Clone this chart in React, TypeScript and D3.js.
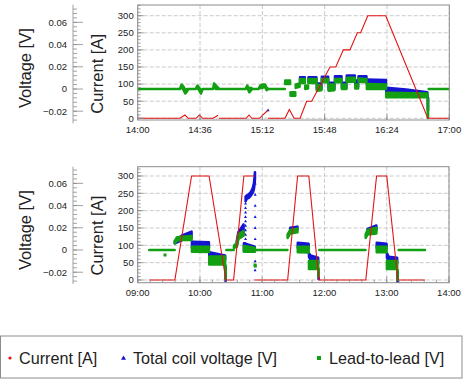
import React from "react";
import * as d3 from "d3";

type Band = [number, number, number]; // [minutes from panel start, low V, high V]
type Pt = [number, number];

// ---------- data ----------
const TOP_TIME_TICKS = ["14:00", "14:36", "15:12", "15:48", "16:24", "17:00"];
const BOTTOM_TIME_TICKS = ["09:00", "10:00", "11:00", "12:00", "13:00", "14:00"];
const CURRENT_TICKS = [0, 50, 100, 150, 200, 250, 300];
const VOLTAGE_TICKS = [-0.02, 0, 0.02, 0.04, 0.06];
const LEGEND_LABELS = ["Current [A]", "Total coil voltage [V]", "Lead-to-lead [V]"];

// current [A] vs minutes after 14:00
const TOP_CURRENT: Pt[][] = [
  [[0, 0], [24.4, 0], [27.3, 9.6], [29.2, 0], [33.7, 0], [35.6, 9.6], [37.5, 0], [43.7, 0], [46.4, 9]],
  [[47, 0], [62.6, 0], [64.3, 9.6], [65.9, 0], [70.3, 0], [74.9, 22]],
  [[75.2, 0], [85.1, 0], [87.6, 26], [90.3, 0], [93.8, 0], [97.6, 50], [100.5, 50], [111.1, 150], [114.4, 150],
   [118.8, 200], [122.6, 200], [126.9, 250], [128.8, 250], [132.9, 300], [143.3, 300], [167.6, 0], [180, 0]],
];

// lead-to-lead [V] bands vs minutes after 14:00
const TOP_GREEN: Band[][] = [
  [[0, 0, 0], [24.4, 0, 0], [25.4, 0.002, 0.004], [26.5, -0.001, 0.002], [27.5, -0.004, -0.001], [28.5, -0.002, 0], [29.3, 0, 0],
   [33.5, 0, 0], [34.5, 0.001, 0.003], [35.5, -0.001, 0.001], [36.5, -0.004, -0.001], [37.5, 0, 0],
   [43.5, 0, 0], [44.2, 0.002, 0.005], [45.2, 0, 0.003], [46.5, 0, 0.001], [47, 0, 0],
   [62.3, 0, 0], [63.3, 0.001, 0.003], [64.5, -0.003, 0], [65.5, -0.001, 0.001], [66.3, 0, 0],
   [69.8, 0, 0], [70.8, 0.001, 0.003], [72, 0.001, 0.004], [73.5, 0.002, 0.004], [74.5, -0.001, 0.001], [75.5, 0, 0], [85, 0, 0]],
  [[85.2, 0.0045, 0.0075], [88, 0.0045, 0.0075]],
  [[88.3, -0.006, -0.003], [91, -0.006, -0.003]],
  [[91.3, 0.001, 0.004], [93.5, 0.002, 0.005]],
  [[93.8, 0.0055, 0.009], [96.5, 0.0055, 0.009]],
  [[96.8, 0, 0.003], [98.4, 0.0005, 0.003]],
  [[98.7, 0.0055, 0.009], [103.2, 0.0055, 0.009]],
  [[103.5, -0.0015, 0.004], [106.1, -0.001, 0.003]],
  [[106.4, 0.006, 0.009], [110, 0.006, 0.009]],
  [[110.3, -0.0015, 0.004], [113.6, -0.001, 0.004]],
  [[114, 0.006, 0.009], [117.7, 0.006, 0.009]],
  [[118, 0, 0.004], [120.5, 0, 0.004]],
  [[120.8, 0.0065, 0.01], [125.4, 0.0065, 0.01]],
  [[125.7, 0.0005, 0.004], [127.3, 0.0005, 0.004]],
  [[127.6, 0.0065, 0.0095], [132.1, 0.006, 0.009]],
  [[132.4, 0, 0.0045], [143.4, 0, 0.004]],
  [[143.6, -0.0075, -0.0035], [167.3, -0.0075, -0.004]],
  [[167.6, -0.026, -0.009], [167.7, -0.026, -0.009]],
  [[168.1, 0, 0], [180, 0, 0]],
];

// total coil voltage [V] bands vs minutes after 14:00
const TOP_BLUE: Band[][] = [
  [[93.8, 0.006, 0.0105], [96.5, 0.006, 0.0105]],
  [[98.7, 0.006, 0.0105], [103.2, 0.006, 0.0105]],
  [[103.5, 0, 0.005], [106.1, 0, 0.005]],
  [[106.4, 0.0065, 0.011], [110, 0.0065, 0.011]],
  [[110.3, 0, 0.0055], [113.6, 0, 0.0055]],
  [[114, 0.0065, 0.0115], [117.7, 0.0065, 0.0115]],
  [[118, 0.001, 0.0055], [120.5, 0.001, 0.0055]],
  [[120.8, 0.007, 0.012], [125.4, 0.007, 0.012]],
  [[125.7, 0.002, 0.0075], [127.3, 0.002, 0.0075]],
  [[127.6, 0.007, 0.0115], [132.1, 0.007, 0.0115]],
  [[132.4, 0.004, 0.0085], [143.4, 0.004, 0.008]],
  [[143.6, -0.0045, 0.001], [155, -0.005, -0.0005], [167.3, -0.007, -0.003]],
  [[167.6, -0.019, -0.008], [167.7, -0.019, -0.008]],
];
const TOP_BLUE_DOTS: Pt[] = [[46.2, 0.0015], [75.3, -0.019]];
const TOP_GREEN_DOTS: Pt[] = [];

// current [A] vs minutes after 09:00
const BOTTOM_CURRENT: Pt[][] = [
  [[11.2, 0], [35.8, 0], [51.9, 300], [68.8, 300], [85, 0], [92.4, 0], [102.3, 300], [112.3, 300]],
  [[112.6, 0], [144.5, 0], [154.1, 300], [164.9, 300], [174.6, 0], [219.8, 0], [230.2, 300], [240, 300], [250.8, 0], [276.8, 0]],
];

// lead-to-lead [V] bands vs minutes after 09:00
const BOTTOM_GREEN: Band[][] = [
  [[11.2, 0, 0], [35.6, 0, 0]],
  [[35.8, 0.006, 0.008], [37.9, 0.0085, 0.0115], [42.7, 0.009, 0.012], [51.9, 0.009, 0.0125]],
  [[52.3, -0.0015, 0.003], [68.6, -0.0018, 0.003]],
  [[69, -0.013, -0.006], [84.2, -0.013, -0.006]],
  [[84.6, -0.026, -0.014], [84.7, -0.026, -0.014]],
  [[85.5, 0, 0], [92.5, 0, 0]],
  [[92.8, 0.002, 0.004], [95.5, 0.003, 0.006], [97, 0.01, 0.014], [102, 0.013, 0.017]],
  [[102.4, -0.0015, 0.0035], [112.8, -0.0015, 0.002]],
  [[113.4, 0, 0], [144.3, 0, 0]],
  [[144.5, 0.011, 0.014], [147, 0.015, 0.018], [153.9, 0.016, 0.019]],
  [[154.3, -0.002, 0.003], [164.7, -0.0022, 0.003]],
  [[165.1, -0.017, -0.01], [173.9, -0.017, -0.01]],
  [[174.3, -0.024, -0.017], [174.4, -0.024, -0.017]],
  [[175, 0, 0], [219.5, 0, 0]],
  [[219.7, 0.011, 0.014], [221.5, 0.014, 0.018], [230, 0.015, 0.02]],
  [[230.4, -0.002, 0.003], [239.8, -0.002, 0.003]],
  [[240.2, -0.017, -0.01], [250, -0.017, -0.01]],
  [[250.4, -0.027, -0.018], [250.5, -0.027, -0.018]],
  [[251.5, 0, 0], [276.8, 0, 0]],
];
const BOTTOM_GREEN_DOTS: Pt[] = [[26.3, -0.0045], [113.1, -0.0135], [113.3, -0.0145]];

// total coil voltage [V] bands vs minutes after 09:00
const BOTTOM_BLUE: Band[][] = [
  [[35.8, 0.006, 0.008], [42.7, 0.009, 0.013], [51.9, 0.011, 0.0165]],
  [[52.3, 0.002, 0.0075], [68.6, 0.002, 0.007]],
  [[69, -0.008, -0.002], [84.2, -0.009, -0.005]],
  [[84.6, -0.028, -0.015], [84.7, -0.028, -0.015]],
  [[95.5, 0.004, 0.008], [97, 0.011, 0.016], [102, 0.015, 0.023]],
  [[102.4, -0.001, 0.006], [112.8, -0.001, 0.003]],
  [[104, 0.044, 0.048], [105, 0.046, 0.049], [107, 0.047, 0.05], [109, 0.049, 0.052], [111, 0.052, 0.056], [112, 0.055, 0.06], [112.7, 0.06, 0.066], [113, 0.065, 0.07]],
  [[147, 0.016, 0.02], [153.9, 0.018, 0.021]],
  [[154.3, 0.002, 0.0065], [164.7, 0.0015, 0.0055]],
  [[165.1, -0.006, -0.003], [166.5, -0.009, -0.005], [173.9, -0.012, -0.007]],
  [[174.3, -0.026, -0.02], [174.4, -0.026, -0.02]],
  [[221.5, 0.016, 0.019], [230, 0.018, 0.022]],
  [[230.4, 0.002, 0.0065], [239.8, 0.002, 0.0055]],
  [[240.2, -0.007, -0.003], [241.8, -0.01, -0.006], [250, -0.012, -0.007]],
  [[250.4, -0.029, -0.02], [250.5, -0.029, -0.02]],
];
const BOTTOM_BLUE_DOTS: Pt[] = [
  [103.9, 0.006], [103.9, 0.01], [103.9, 0.014], [103.9, 0.018], [103.9, 0.022], [103.9, 0.026], [103.9, 0.03],
  [103.9, 0.034], [103.9, 0.038], [103.9, 0.042],
  [113.2, 0.06], [113.2, 0.05], [113.2, 0.04], [113.2, 0.03], [113.2, 0.02], [113.2, 0.01], [113.2, 0.0],
  [113.2, -0.01], [113.1, -0.018],
];

// ---------- styling ----------
const FONT = "'Liberation Sans', Arial, Helvetica, sans-serif";
const RED = "#e41212";
const BLUE = "#1414d2";
const GREEN = "#12a012";
const FRAME = "#8c8c8c";
const GRID = "#bdbdbd";
const TEXT = "#222";

type PanelCfg = {
  id: string;
  base: Date;
  end: Date;
  x0: number; x1: number; y0: number; y1: number;
  curDomain: [number, number];
  vDomain: [number, number];
  vY0: number; vY1: number;
  minorMinutes: number;
  timeTicks: string[];
  current: Pt[][];
  blue: Band[][];
  green: Band[][];
  blueDots: Pt[];
  greenDots: Pt[];
};

function hm(base: Date, s: string): Date {
  const [h, m] = s.split(":").map(Number);
  const d = new Date(base);
  d.setHours(h, m, 0, 0);
  if (d.getTime() < base.getTime()) d.setDate(d.getDate() + 1);
  return d;
}

function Panel({ c }: { c: PanelCfg }) {
  const x = d3.scaleTime().domain([c.base, c.end]).range([c.x0, c.x1]);
  const tm = (m: number) => x(new Date(c.base.getTime() + m * 60000));
  const yC = d3.scaleLinear().domain(c.curDomain).range([c.y1, c.y0]);
  const yV = d3.scaleLinear().domain(c.vDomain).range([c.vY1, c.vY0]);
  const fmt = d3.timeFormat("%H:%M");
  const tickDates = c.timeTicks.map((s) => hm(c.base, s));
  const minorX = d3.timeMinute.every(1)!
    .range(c.base, new Date(c.end.getTime() + 1))
    .filter((d) => Math.round((d.getTime() - c.base.getTime()) / 60000 * 10) % Math.round(c.minorMinutes * 10) === 0);
  const curMinor = d3.range(0, c.curDomain[1], 10);
  const vMinor = d3.range(-40, 80, 4).map((v) => v / 1000).filter((v) => v >= c.vDomain[0] && v <= c.vDomain[1]);
  const area = d3.area<Band>().x((d) => tm(d[0])).y0((d) => yV(d[1])).y1((d) => yV(d[2]));
  const line = d3.line<Pt>().x((d) => tm(d[0])).y((d) => yC(d[1]));
  const vAxisX = 73;
  const clipId = "clip-" + c.id;
  const tri = (px: number, py: number, s: number) => `M${px},${py - s}L${px + s},${py + s * 0.8}L${px - s},${py + s * 0.8}Z`;

  return (
    <g>
      <defs>
        <clipPath id={clipId}>
          <rect x={c.x0} y={c.y0} width={c.x1 - c.x0} height={c.y1 - c.y0} />
        </clipPath>
      </defs>
      <rect x={c.x0} y={c.y0} width={c.x1 - c.x0} height={c.y1 - c.y0} fill="#fff" />
      {/* grid */}
      {CURRENT_TICKS.map((v) => (
        <line key={"gy" + v} x1={c.x0} x2={c.x1} y1={yC(v)} y2={yC(v)} stroke={GRID} strokeWidth={0.8} strokeDasharray="4,2" />
      ))}
      {tickDates.map((d, i) => (
        <line key={"gx" + i} x1={x(d)} x2={x(d)} y1={c.y0} y2={c.y1} stroke={GRID} strokeWidth={0.8} strokeDasharray="4,2" />
      ))}
      {/* data */}
      <g clipPath={`url(#${clipId})`}>
        {c.blue.map((run, i) => (
          <path key={"b" + i} d={area(run) || ""} fill={BLUE} stroke={BLUE} strokeWidth={2.6} strokeLinejoin="round" />
        ))}
        {c.blueDots.map((p, i) => (
          <path key={"bd" + i} d={tri(tm(p[0]), yV(p[1]), 1.5)} fill={BLUE} />
        ))}
        {c.green.map((run, i) => (
          <path key={"g" + i} d={area(run) || ""} fill={GREEN} stroke={GREEN} strokeWidth={2.6} strokeLinejoin="round" />
        ))}
        {c.greenDots.map((p, i) => (
          <rect key={"gd" + i} x={tm(p[0]) - 1.5} y={yV(p[1]) - 1.5} width={3} height={3} fill={GREEN} />
        ))}
        {c.current.map((run, i) => (
          <path key={"c" + i} d={line(run) || ""} fill="none" stroke={RED} strokeWidth={1.1} />
        ))}
      </g>
      {/* frame */}
      <rect x={c.x0} y={c.y0} width={c.x1 - c.x0} height={c.y1 - c.y0} fill="none" stroke={FRAME} strokeWidth={1} />
      {/* x ticks */}
      {minorX.map((d, i) => (
        <line key={"mx" + i} x1={x(d)} x2={x(d)} y1={c.y1} y2={c.y1 - 3} stroke={FRAME} strokeWidth={0.8} />
      ))}
      {tickDates.map((d, i) => (
        <g key={"tx" + i}>
          <line x1={x(d)} x2={x(d)} y1={c.y1} y2={c.y1 - 6} stroke={FRAME} strokeWidth={0.8} />
          <text x={x(d)} y={c.y1 + 13} textAnchor="middle" fontSize={9.5} fill={TEXT} fontFamily={FONT}>{fmt(d)}</text>
        </g>
      ))}
      {/* current axis */}
      {curMinor.map((v) => (
        <line key={"mc" + v} x1={c.x0} x2={c.x0 + 3} y1={yC(v)} y2={yC(v)} stroke={FRAME} strokeWidth={0.8} />
      ))}
      {CURRENT_TICKS.map((v) => (
        <g key={"tc" + v}>
          <line x1={c.x0} x2={c.x0 + 6} y1={yC(v)} y2={yC(v)} stroke={FRAME} strokeWidth={0.8} />
          <text x={c.x0 - 4} y={yC(v) + 3.4} textAnchor="end" fontSize={9.5} fill={TEXT} fontFamily={FONT}>{v}</text>
        </g>
      ))}
      {/* voltage axis */}
      <line x1={vAxisX} x2={vAxisX} y1={c.vY0} y2={c.vY1} stroke={FRAME} strokeWidth={0.8} />
      {vMinor.map((v) => (
        <line key={"mv" + v} x1={vAxisX} x2={vAxisX + 4} y1={yV(v)} y2={yV(v)} stroke={FRAME} strokeWidth={0.8} />
      ))}
      {VOLTAGE_TICKS.map((v) => (
        <g key={"tv" + v}>
          <line x1={vAxisX} x2={vAxisX + 10} y1={yV(v)} y2={yV(v)} stroke={FRAME} strokeWidth={0.8} />
          <text x={vAxisX - 6} y={yV(v) + 3.4} textAnchor="end" fontSize={9.5} fill={TEXT} fontFamily={FONT}>
            {v < 0 ? "\u2212" + Math.abs(v).toString() : v.toString()}
          </text>
        </g>
      ))}
      {/* titles */}
      <text transform={`translate(31,${c.vY0 + 23.5}) rotate(-90)`} textAnchor="end" fontSize={16.5} fill={TEXT} fontFamily={FONT}>Voltage [V]</text>
      <text transform={`translate(103,${c.y0 + 29}) rotate(-90)`} textAnchor="end" fontSize={16.5} fill={TEXT} fontFamily={FONT}>Current [A]</text>
    </g>
  );
}

export default function App() {
  const topBase = new Date(2020, 0, 1, 14, 0);
  const botBase = new Date(2020, 0, 1, 9, 0);
  const top: PanelCfg = {
    id: "top", base: topBase, end: new Date(2020, 0, 1, 17, 0),
    x0: 137.7, x1: 449.3, y0: 5, y1: 120,
    curDomain: [-5, 331.3], vDomain: [-0.0309, 0.0759], vY0: 4.7, vY1: 123.3,
    minorMinutes: 7.2, timeTicks: TOP_TIME_TICKS,
    current: TOP_CURRENT, blue: TOP_BLUE, green: TOP_GREEN, blueDots: TOP_BLUE_DOTS, greenDots: TOP_GREEN_DOTS,
  };
  const bottom: PanelCfg = {
    id: "bot", base: botBase, end: new Date(2020, 0, 1, 14, 0),
    x0: 137.7, x1: 449, y0: 166.7, y1: 282.7,
    curDomain: [-7.8, 326.8], vDomain: [-0.0306, 0.075], vY0: 166.7, vY1: 284,
    minorMinutes: 12, timeTicks: BOTTOM_TIME_TICKS,
    current: BOTTOM_CURRENT, blue: BOTTOM_BLUE, green: BOTTOM_GREEN, blueDots: BOTTOM_BLUE_DOTS, greenDots: BOTTOM_GREEN_DOTS,
  };
  const legendY = 358;
  const legendX = [19, 133, 329];
  return (
    <svg width={463} height={381} style={{ position: "absolute", left: 0, top: 0, background: "#fff" }} fontFamily={FONT}>
      <rect x={0} y={0} width={463} height={381} fill="#fff" />
      <Panel c={top} />
      <Panel c={bottom} />
      <rect x={0.5} y={336} width={461.5} height={42} fill="#fff" stroke={FRAME} strokeWidth={1} />
      <circle cx={10} cy={legendY} r={1.6} fill={RED} />
      <path d={`M123.5,${legendY - 2.5}L126,${legendY + 1.8}L121,${legendY + 1.8}Z`} fill={BLUE} />
      <rect x={317} y={legendY - 2} width={4} height={4} fill={GREEN} />
      {LEGEND_LABELS.map((s, i) => (
        <text key={s} x={legendX[i]} y={legendY + 5.5} fontSize={16.2} fill={TEXT} fontFamily={FONT}>{s}</text>
      ))}
    </svg>
  );
}
